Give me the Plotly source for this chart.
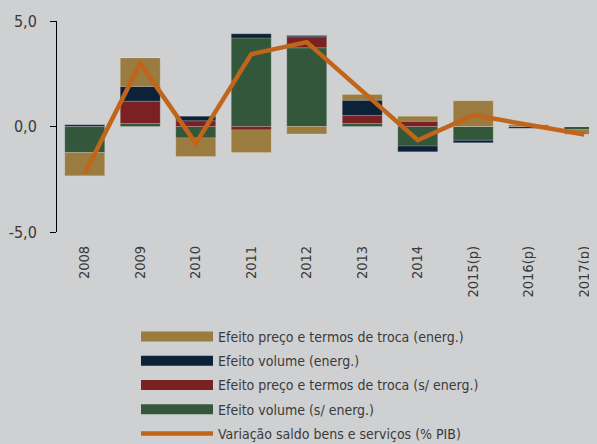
import plotly.graph_objects as go

categories = ["2008", "2009", "2010", "2011", "2012", "2013", "2014", "2015(p)", "2016(p)", "2017(p)"]
vol_s_energ = [-1.23, 0.14, -0.54, 4.20, 3.73, 0.14, -0.93, -0.65, 0.00, -0.15]
preco_s_energ = [0.00, 1.06, 0.27, -0.16, 0.52, 0.38, 0.25, 0.00, 0.00, 0.00]
vol_energ = [0.08, 0.70, 0.22, 0.19, 0.06, 0.73, -0.27, -0.12, -0.08, 0.00]
preco_energ = [-1.11, 1.35, -0.88, -1.07, -0.35, 0.27, 0.24, 1.22, 0.08, -0.22]
saldo = [-2.23, 2.99, -0.80, 3.43, 4.00, 1.70, -0.65, 0.54, 0.07, -0.38]
ytick_vals = [-5, 0, 5]
ytick_text = ["-5,0", "0,0", "5,0"]

names = {
    "pe": "Efeito preço e termos de troca (energ.)",
    "ve": "Efeito volume (energ.)",
    "ps": "Efeito preço e termos de troca (s/ energ.)",
    "vs": "Efeito volume (s/ energ.)",
    "line": "Variação saldo bens e serviços (% PIB)",
}
colors = {"pe": "#9a7b40", "ve": "#0c2238", "ps": "#7a2124", "vs": "#33573a", "line": "#c1651a"}

FONT = "DejaVu Sans Condensed, Open Sans, sans-serif"
BG = "#cfd0d2"
TXT = "#3a3a3a"

fig = go.Figure()
for key, vals in [("vs", vol_s_energ), ("ps", preco_s_energ), ("ve", vol_energ), ("pe", preco_energ)]:
    fig.add_trace(go.Bar(x=categories, y=vals, name=names[key], marker_color=colors[key],
                         marker_line=dict(width=1, color="rgba(255,255,255,0.18)"),
                         showlegend=False, hoverinfo="skip"))

rank = {"pe": 1, "ve": 2, "ps": 3, "vs": 4}
for key in ["pe", "ve", "ps", "vs"]:
    fig.add_trace(go.Scatter(x=[categories[0]], y=[None], mode="lines", name=names[key],
                             line=dict(color=colors[key], width=12), legendrank=rank[key],
                             legendgroup=key, hoverinfo="skip"))

fig.add_trace(go.Scatter(x=categories, y=saldo, mode="lines", name=names["line"],
                         line=dict(color=colors["line"], width=4.5), legendrank=5,
                         legendgroup="line"))

xr = [-0.5, 9.374]
fig.update_layout(
    width=597, height=444,
    paper_bgcolor=BG, plot_bgcolor=BG,
    margin=dict(l=49, r=0, t=13, b=220, autoexpand=False),
    barmode="relative", bargap=0.28,
    separators=",.",
    font=dict(family=FONT, size=14, color=TXT),
    xaxis=dict(type="category", categoryarray=categories, range=xr, tickangle=-90,
               showline=False, ticks="", showgrid=False, zeroline=False,
               tickfont=dict(size=14.5, color=TXT), ticklabelstandoff=10),
    xaxis2=dict(type="linear", overlaying="x", anchor="free", position=0.5, range=xr,
                tickmode="linear", tick0=0.5, dtick=1,
                showline=True, linecolor="#000000", linewidth=1, ticks="outside", ticklen=6,
                tickcolor="#555555", showticklabels=False, showgrid=False, zeroline=False),
    yaxis=dict(range=[-5, 5], tickvals=ytick_vals, ticktext=ytick_text, showline=True,
               linecolor="#000000", linewidth=1, ticks="outside", ticklen=6, tickcolor="#000000",
               showgrid=False, zeroline=False, tickfont=dict(size=16, color=TXT),
               ticklabelstandoff=10),
    legend=dict(xref="container", yref="container", x=128 / 597, y=1 - 313 / 444,
                xanchor="left", yanchor="top", bgcolor="rgba(0,0,0,0)", itemwidth=72,
                traceorder="grouped", tracegroupgap=3,
                font=dict(family=FONT, size=14, color=TXT)),
    showlegend=True,
)
fig.write_html("out.html",
               post_script="document.body.style.background='#cfd0d2';"
                           "document.documentElement.style.background='#cfd0d2';")
